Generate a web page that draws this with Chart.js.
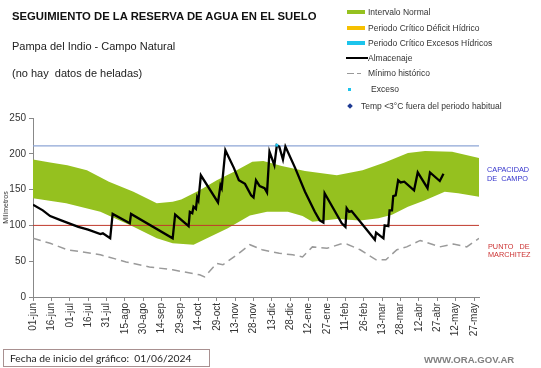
<!DOCTYPE html>
<html>
<head>
<meta charset="utf-8">
<script src="https://cdn.jsdelivr.net/npm/chart.js@4"></script>
<style>
  body { margin: 0; background: #fff; font-family: "Liberation Sans", Arial, sans-serif; }
  #wrap { position: relative; width: 541px; height: 368px; overflow: hidden; }
  #c { position: absolute; left: 0; top: 0; }
  .t { position: absolute; white-space: nowrap; color: #222; }
  .lg { position: absolute; font-size: 8.5px; line-height: 8.5px; color: #333; white-space: nowrap; }
  .sw { position: absolute; }
</style>
</head>
<body>
<div id="wrap">
  <canvas id="c" width="541" height="368"></canvas>

  <div class="t" style="left:12px; top:11px; font-size:11.3px; line-height:11.3px; font-weight:bold; color:#111;">SEGUIMIENTO DE LA RESERVA DE AGUA EN EL SUELO</div>
  <div class="t" style="left:12px; top:41px; font-size:11px; line-height:11px;">Pampa del Indio - Campo Natural</div>
  <div class="t" style="left:12px; top:68px; font-size:11px; line-height:11px;">(no hay&nbsp; datos de heladas)</div>

  <!-- legend -->
  <div class="sw" style="left:347px; top:10px; width:18px; height:4px; background:#95c11f;"></div>
  <div class="lg" style="left:368px; top:7.5px;">Intervalo Normal</div>
  <div class="sw" style="left:347px; top:26px; width:18px; height:4px; background:#f6c000;"></div>
  <div class="lg" style="left:368px; top:23.5px;">Periodo Crítico Déficit Hídrico</div>
  <div class="sw" style="left:347px; top:41px; width:18px; height:4px; background:#1cc4ec;"></div>
  <div class="lg" style="left:368px; top:38.5px;">Periodo Crítico Excesos Hídricos</div>
  <div class="sw" style="left:346px; top:57px; width:22px; height:2px; background:#000;"></div>
  <div class="lg" style="left:368px; top:54px;">Almacenaje</div>
  <div class="sw" style="left:347px; top:72.5px; width:7px; height:1.5px; background:#999;"></div>
  <div class="sw" style="left:357px; top:72.5px; width:4px; height:1.5px; background:#999;"></div>
  <div class="lg" style="left:368px; top:69px;">Mínimo histórico</div>
  <div class="sw" style="left:348px; top:88px; width:3px; height:3px; background:#1cc4ec;"></div>
  <div class="lg" style="left:371px; top:85px;">Exceso</div>
  <div class="sw" style="left:347.5px; top:103.5px; width:4px; height:4px; background:#1f3a93; transform:rotate(45deg);"></div>
  <div class="lg" style="left:361px; top:102px;">Temp &lt;3°C fuera del periodo habitual</div>

  <!-- right side labels -->
  <div class="t" style="left:487px; top:166px; font-size:7.3px; line-height:7.3px; color:#3333cc;">CAPACIDAD</div>
  <div class="t" style="left:487px; top:175px; font-size:7.3px; line-height:7.3px; color:#3333cc;">DE&nbsp; CAMPO</div>
  <div class="t" style="left:488px; top:243px; font-size:7.3px; line-height:7.3px; color:#cc3333;">PUNTO&nbsp;&nbsp; DE</div>
  <div class="t" style="left:488px; top:251px; font-size:7.3px; line-height:7.3px; color:#cc3333;">MARCHITEZ</div>

  <!-- footer -->
  <div style="position:absolute; left:3px; top:349px; width:207px; height:18px; border:1px solid #a89090; box-sizing:border-box;"></div>
  <div class="t" style="left:10px; top:353px; font-size:10.3px; line-height:10.3px; font-family:Lato,'Liberation Sans',sans-serif; color:#222;">Fecha de inicio del gráfico:&nbsp; 01/06/2024</div>
  <div class="t" style="left:424px; top:355px; font-size:9.6px; line-height:9.6px; font-weight:bold; color:#808080;">WWW.ORA.GOV.AR</div>
</div>

<script>
// eje x: dias desde 01/06/2024
const tickLabels = ["01-jun", "16-jun", "01-jul", "16-jul", "31-jul", "15-ago", "30-ago", "14-sep", "29-sep",
  "14-oct", "29-oct", "13-nov", "28-nov", "13-dic", "28-dic", "12-ene", "27-ene", "11-feb", "26-feb",
  "13-mar", "28-mar", "12-abr", "27-abr", "12-may", "27-may"];

// intervalo normal (limite superior / inferior)
const upperDays = [0, 14, 28, 44, 62, 82, 101, 114, 121, 136, 150, 164, 179, 188, 203, 222, 248, 269, 287, 306, 320, 342, 364];
const upperVals = [192, 188, 184, 177, 161, 147, 131, 133, 136, 149, 163, 175, 189, 190, 183, 176, 170, 177, 188, 201, 204, 203, 194];
const lowerDays = [0, 27, 55, 82, 101, 114, 131, 142, 159, 177, 191, 208, 220, 228, 248, 267, 282, 293, 306, 320, 336, 347, 364];
const lowerVals = [138, 131, 119, 98, 82, 75, 73, 82, 96, 114, 119, 119, 113, 105, 109, 107, 110, 115, 126, 135, 147, 145, 140];

// minimo historico
const minDays = [0, 14, 28, 55, 76, 95, 114, 136, 140, 150, 155, 168, 177, 187, 201, 212, 220, 228, 240, 251, 256, 267, 280, 288, 297, 305, 316, 332, 343, 354, 364];
const minVals = [82, 75, 66, 59, 49, 42, 38, 31, 28, 47, 45, 61, 73, 66, 61, 59, 56, 70, 68, 74, 74, 66, 52, 52, 66, 70, 79, 70, 74, 70, 82];

// almacenaje
const almDays = [0, 8, 14, 23, 37, 45, 55, 57, 63, 65, 79, 80, 114, 116, 127, 128, 130, 131, 133, 134, 135, 137,
  151, 153, 154, 157, 164, 168, 173, 178, 180, 182, 185, 189, 191, 193, 197, 199, 201, 204, 206, 214, 222, 230,
  234, 237, 238, 252, 255, 256, 258, 260, 279, 280, 286, 287, 290, 291, 293, 294, 296, 298, 300, 303, 311, 314,
  322, 324, 332, 335];
const almVals = [129, 121, 113, 107, 98, 94, 88, 89, 82, 116, 103, 116, 82, 115, 99, 119, 117, 126, 123, 139, 135, 170,
  132, 156, 152, 205, 180, 163, 158, 142, 139, 163, 155, 152, 146, 203, 184, 212, 210, 192, 210, 180, 147, 119,
  107, 104, 145, 103, 98, 124, 119, 120, 80, 90, 82, 100, 99, 121, 121, 141, 142, 163, 160, 161, 149, 174,
  152, 174, 162, 172];

const excesoDays = [199];
const excesoVals = [212];

const capacidadCampo = 211;
const puntoMarchitez = 100;
const lastDay = 364;
const tickStep = 15;

const pts = (xs, ys) => xs.map((x, i) => ({ x: x, y: ys[i] }));

new Chart(document.getElementById("c"), {
  type: "line",
  data: {
    datasets: [
      {
        label: "Intervalo Normal",
        data: pts(upperDays, upperVals),
        borderWidth: 0,
        pointRadius: 0,
        backgroundColor: "#95c11f",
        fill: "+1",
        order: 10,
      },
      {
        label: "inferior",
        data: pts(lowerDays, lowerVals),
        borderWidth: 0,
        pointRadius: 0,
        fill: false,
        order: 10,
      },
      {
        label: "Capacidad de campo",
        data: pts([0, lastDay], [capacidadCampo, capacidadCampo]),
        borderColor: "#8ea6d6",
        borderWidth: 1.2,
        pointRadius: 0,
        order: 5,
      },
      {
        label: "Punto de marchitez",
        data: pts([0, lastDay], [puntoMarchitez, puntoMarchitez]),
        borderColor: "#c0392b",
        borderWidth: 1,
        pointRadius: 0,
        order: 5,
      },
      {
        label: "Mínimo histórico",
        data: pts(minDays, minVals),
        borderColor: "#9a9a9a",
        borderWidth: 1.5,
        borderDash: [8, 5],
        pointRadius: 0,
        order: 4,
      },
      {
        label: "Almacenaje",
        data: pts(almDays, almVals),
        borderColor: "#000",
        borderWidth: 2.3,
        pointRadius: 0,
        order: 2,
      },
      {
        label: "Exceso",
        data: pts(excesoDays, excesoVals),
        showLine: false,
        pointStyle: "rect",
        pointRadius: 2,
        pointBackgroundColor: "#1cc4ec",
        pointBorderWidth: 0,
        order: 1,
      },
    ],
  },
  options: {
    responsive: false,
    animation: false,
    events: [],
    elements: { line: { tension: 0 } },
    layout: { padding: { left: 0, top: 118, right: 62, bottom: 26 } },
    plugins: { legend: { display: false }, tooltip: { enabled: false } },
    scales: {
      x: {
        type: "linear",
        min: 0,
        max: lastDay,
        afterBuildTicks: (axis) => {
          axis.ticks = tickLabels.map((_, i) => ({ value: i * tickStep }));
        },
        afterFit: (axis) => {
          axis.height = 45;
        },
        grid: { display: true, drawOnChartArea: false, tickLength: 4, color: "#888" },
        border: { color: "#888", width: 1 },
        ticks: {
          autoSkip: false,
          minRotation: 90,
          maxRotation: 90,
          padding: 2,
          color: "#333",
          font: { family: "'Liberation Sans', Arial", size: 10 },
          callback: (v) => tickLabels[Math.round(v / tickStep)] ?? "",
        },
      },
      y: {
        min: 0,
        max: 250,
        afterFit: (axis) => {
          axis.width = 33;
        },
        grid: { display: true, drawOnChartArea: false, tickLength: 4, color: "#888" },
        border: { color: "#888", width: 1 },
        title: {
          display: true,
          text: "Milímetros",
          color: "#333",
          padding: { top: 2, bottom: 0 },
          font: { family: "'Liberation Sans', Arial", size: 7 },
        },
        ticks: {
          stepSize: 50,
          padding: 3,
          color: "#333",
          font: { family: "'Liberation Sans', Arial", size: 10 },
        },
      },
    },
  },
});
</script>
</body>
</html>
